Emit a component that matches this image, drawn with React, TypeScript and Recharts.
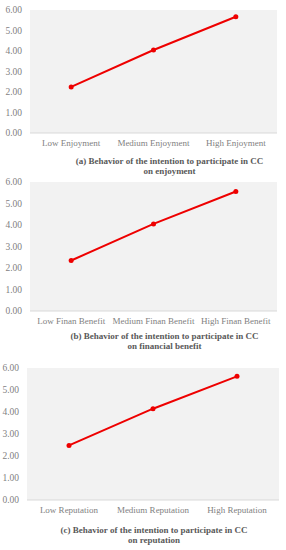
import React from "react";
import { LineChart, Line, XAxis, YAxis, CartesianGrid } from "recharts";

const enjoyCats = ["Low Enjoyment", "Medium Enjoyment", "High Enjoyment"];
const enjoyVals = [2.25, 4.05, 5.67];
const finanCats = ["Low Finan Benefit", "Medium Finan Benefit", "High Finan Benefit"];
const finanVals = [2.35, 4.05, 5.56];
const repCats = ["Low Reputation", "Medium Reputation", "High Reputation"];
const repVals = [2.48, 4.15, 5.62];
const yTicks = [0, 1, 2, 3, 4, 5, 6];

const FONT = "'Liberation Serif', 'Times New Roman', serif";
const TICK = "#7f7f7f";
const RED = "#ee0000";

interface Panel {
  top: number;
  height: number;
  marginTop: number;
  axisW: number;
  right: number;
  cats: string[];
  vals: number[];
  title: string[];
  titleTop: number;
  titleCenter: number;
}

const panels: Panel[] = [
  {
    top: 0, height: 153, marginTop: 10, axisW: 30, right: 9,
    cats: enjoyCats, vals: enjoyVals,
    title: ["(a) Behavior of the intention to participate in CC", "on enjoyment"],
    titleTop: 156, titleCenter: 169.5,
  },
  {
    top: 171, height: 160, marginTop: 11, axisW: 30, right: 9,
    cats: finanCats, vals: finanVals,
    title: ["(b) Behavior of the intention to participate in CC", "on financial benefit"],
    titleTop: 330.5, titleCenter: 164.5,
  },
  {
    top: 357, height: 163, marginTop: 11, axisW: 27, right: 7,
    cats: repCats, vals: repVals,
    title: ["(c) Behavior of the intention to participate in CC", "on reputation"],
    titleTop: 525, titleCenter: 154,
  },
];

const Chart: React.FC<{ p: Panel }> = ({ p }) => {
  const data = p.cats.map((c, i) => ({ cat: c, v: p.vals[i] }));
  return (
    <>
      <div style={{ position: "absolute", top: p.top, left: 0 }}>
        <LineChart width={286} height={p.height} data={data}
          margin={{ top: p.marginTop, right: p.right, left: 0, bottom: 0 }}>
          <CartesianGrid horizontal={false} vertical={false} fill="#f2f2f2" stroke="none" />
          <XAxis dataKey="cat" scale="band" height={20} tickLine={false} axisLine={{ stroke: "#d9d9d9" }}
            tickMargin={1} interval={0}
            tick={{ fill: TICK, fontSize: 9, fontFamily: FONT }} />
          <YAxis width={p.axisW} domain={[0, 6]} ticks={yTicks} axisLine={false} tickLine={false}
            tickFormatter={(v: number) => v.toFixed(2)}
            tick={{ fill: TICK, fontSize: 9.5, fontFamily: FONT }} />
          <Line dataKey="v" type="linear" stroke={RED} strokeWidth={2}
            dot={{ r: 2.5, fill: RED, stroke: RED, strokeWidth: 0 }} isAnimationActive={false} />
        </LineChart>
      </div>
      <div style={{
        position: "absolute", top: p.titleTop, left: p.titleCenter - 140, width: 280,
        textAlign: "center", fontFamily: FONT, fontWeight: "bold", fontSize: 9,
        lineHeight: "10px", color: "#595959", whiteSpace: "nowrap",
      }}>
        {p.title.map((t) => <div key={t}>{t}</div>)}
      </div>
    </>
  );
};

export default function App() {
  return (
    <div style={{ position: "absolute", top: 0, left: 0, width: 286, height: 550, background: "#fff" }}>
      {panels.map((p, i) => <Chart key={i} p={p} />)}
    </div>
  );
}
